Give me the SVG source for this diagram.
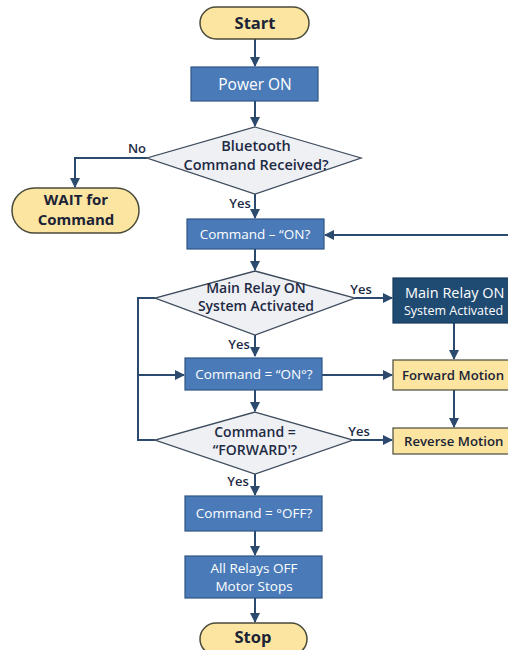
<svg xmlns="http://www.w3.org/2000/svg" width="508" height="650" viewBox="0 0 508 650">
<style>
.term{fill:#fbe5a1;stroke:#4a4a3a;stroke-width:1.5}
.box{fill:#4a7bb8;stroke:#2f5585;stroke-width:1.2}
.dark{fill:#1f4a72;stroke:#173a5c;stroke-width:1.2}
.ybox{fill:#fbe5a1;stroke:#4a4a3a;stroke-width:1.2}
.dia{fill:#eef0f3;stroke:#3d4b5c;stroke-width:1.3}
.conn{fill:none;stroke:#2b4a6e;stroke-width:2}
text{font-family:"Open Sans","Noto Sans","Liberation Sans",sans-serif;text-anchor:middle}
.tt{fill:#1b2336;font-weight:700;font-size:16.5px}
.wt{fill:#ffffff;font-size:13.5px;font-weight:500}
.dt{fill:#1e2a44;font-weight:600;font-size:14px}
.yt{fill:#1b2336;font-weight:600;font-size:13.2px;text-anchor:start}
.lb{fill:#1e2a44;font-weight:600;font-size:13px}
</style>
<defs>
<marker id="ah" viewBox="0 0 10 10" refX="9" refY="5" markerWidth="5" markerHeight="5" orient="auto" markerUnits="strokeWidth">
<path d="M0,0 L10,5 L0,10 z" fill="#2b4a6e"/>
</marker>
</defs>
<g id="connectors">
<path class="conn" d="M255,39 V66" marker-end="url(#ah)"/>
<path class="conn" d="M255,101 V126" marker-end="url(#ah)"/>
<path class="conn" d="M147,158 H75 V187" marker-end="url(#ah)"/>
<path class="conn" d="M255,194 V218" marker-end="url(#ah)"/>
<path class="conn" d="M508,235 H325" marker-end="url(#ah)"/>
<path class="conn" d="M255,249 V270" marker-end="url(#ah)"/>
<path class="conn" d="M355,298 H392" marker-end="url(#ah)"/>
<path class="conn" d="M155,298 H138 V440 H155"/>
<path class="conn" d="M138,375 H184" marker-end="url(#ah)"/>
<path class="conn" d="M255,335 V356" marker-end="url(#ah)"/>
<path class="conn" d="M454,323 V359" marker-end="url(#ah)"/>
<path class="conn" d="M322,375 H392" marker-end="url(#ah)"/>
<path class="conn" d="M255,390 V411" marker-end="url(#ah)"/>
<path class="conn" d="M454,390 V427" marker-end="url(#ah)"/>
<path class="conn" d="M353,440 H392" marker-end="url(#ah)"/>
<path class="conn" d="M255,474 V495" marker-end="url(#ah)"/>
<path class="conn" d="M255,531 V555" marker-end="url(#ah)"/>
<path class="conn" d="M255,598 V622" marker-end="url(#ah)"/>
<text class="lb" x="137" y="153">No</text>
<text class="lb" x="240" y="208">Yes</text>
<text class="lb" x="361" y="294">Yes</text>
<text class="lb" x="239" y="349">Yes</text>
<text class="lb" x="359" y="436">Yes</text>
<text class="lb" x="238" y="486">Yes</text>
</g>
<g id="start"><rect class="term" x="200" y="7" width="109" height="32" rx="16"/><text class="tt" x="255" y="29">Start</text></g>
<g id="power"><rect class="box" x="191" y="67" width="127" height="34"/><text class="wt" x="255" y="89.5" style="font-size:15.5px">Power ON</text></g>
<g id="bt"><polygon class="dia" points="255,127 361,158 255,194 147,158"/><text class="dt" style="font-size:14.5px"><tspan x="256" y="151">Bluetooth</tspan><tspan x="256" y="170">Command Received?</tspan></text></g>
<g id="wait"><rect class="term" x="12" y="188" width="127" height="45" rx="22.5"/><text class="tt" style="font-size:15px"><tspan x="76" y="205">WAIT for</tspan><tspan x="76" y="224.5">Command</tspan></text></g>
<g id="cmd1"><rect class="box" x="187" y="219" width="137" height="30"/><text class="wt" x="255" y="239">Command – “ON?</text></g>
<g id="relaydec"><polygon class="dia" points="255,271 355,298 255,335 155,298"/><text class="dt"><tspan x="256" y="293">Main Relay ON</tspan><tspan x="256" y="311">System Activated</tspan></text></g>
<g id="relaybox"><rect class="dark" x="393" y="278" width="125" height="45"/><text class="wt" style="text-anchor:start"><tspan x="405" y="298" style="font-size:14.5px">Main Relay ON</tspan><tspan x="404" y="315" style="font-size:12.5px">System Activated</tspan></text></g>
<g id="cmdon"><rect class="box" x="185" y="358" width="137" height="32"/><text class="wt" x="254" y="379">Command = “ON°?</text></g>
<g id="forward"><rect class="ybox" x="393" y="360" width="125" height="30"/><text class="yt" x="402" y="380">Forward Motion</text></g>
<g id="fwddec"><polygon class="dia" points="255,412 353,440 255,474 155,440"/><text class="dt"><tspan x="255" y="437">Command =</tspan><tspan x="255" y="455">“FORWARD'?</tspan></text></g>
<g id="reverse"><rect class="ybox" x="393" y="428" width="125" height="26"/><text class="yt" x="404" y="446">Reverse Motion</text></g>
<g id="cmdoff"><rect class="box" x="185" y="496" width="137" height="35"/><text class="wt" x="254" y="518">Command = °OFF?</text></g>
<g id="relaysoff"><rect class="box" x="185" y="556" width="137" height="42"/><text class="wt"><tspan x="254" y="573">All Relays OFF</tspan><tspan x="254" y="591">Motor Stops</tspan></text></g>
<g id="stop"><rect class="term" x="200" y="623" width="107" height="32" rx="16"/><text class="tt" x="253" y="643">Stop</text></g>
</svg>
